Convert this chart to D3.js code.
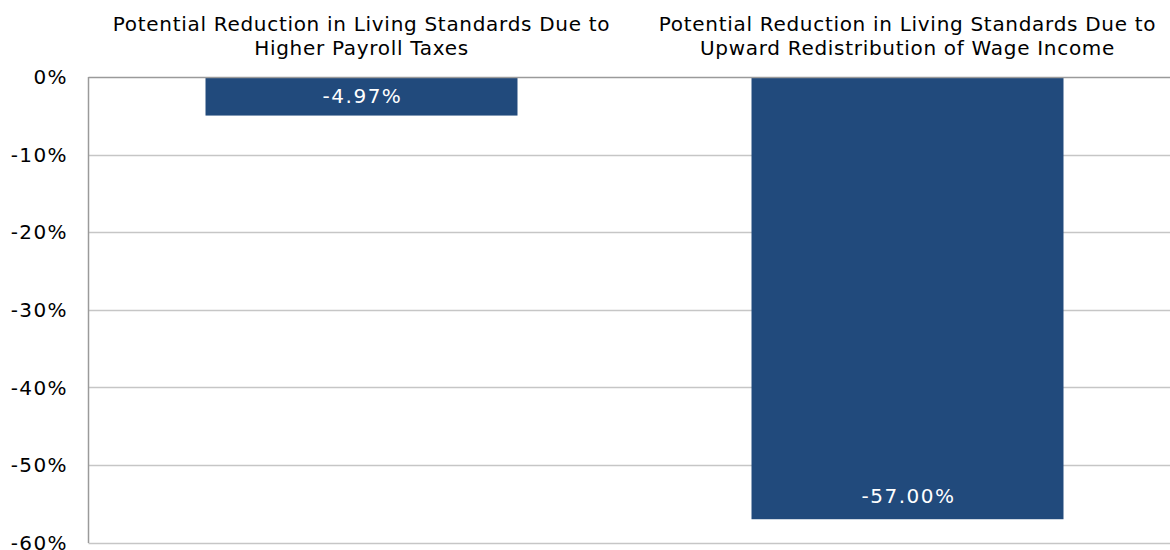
<!DOCTYPE html>
<html>
<head>
<meta charset="utf-8">
<script src="https://cdn.jsdelivr.net/npm/d3@7"></script>
<style>
  body { margin: 0; background: #fff; }
  svg { display: block; font-family: "DejaVu Sans", Verdana, sans-serif; }
</style>
</head>
<body>
<div id="chart"></div>
<script>
// data
var categories = [
  ["Potential Reduction in Living Standards Due to", "Higher Payroll Taxes"],
  ["Potential Reduction in Living Standards Due to", "Upward Redistribution of Wage Income"]
];
var values = [-4.97, -57.0];
var yTicks = [0, -10, -20, -30, -40, -50, -60];

var width = 1170, height = 550;
var svg = d3.select("#chart").append("svg")
  .attr("width", width)
  .attr("height", height);

var y = d3.scaleLinear().domain([0, -60]).range([77, 542.5]);
var x = d3.scaleBand()
  .domain(d3.range(categories.length))
  .range([88.5, 1180.5])
  .paddingInner(0.4286)
  .paddingOuter(0.2143);

// gridlines
svg.append("g")
  .selectAll("line")
  .data(yTicks.slice(1))
  .enter().append("line")
  .attr("x1", 88.5).attr("x2", width)
  .attr("y1", function (d) { return Math.round(y(d)) + 0.5; })
  .attr("y2", function (d) { return Math.round(y(d)) + 0.5; })
  .attr("stroke", "#c6c6c6")
  .attr("stroke-width", 1.5);

// y labels
svg.append("g")
  .selectAll("text")
  .data(yTicks)
  .enter().append("text")
  .attr("x", 68)
  .attr("y", function (d) { return y(d); })
  .attr("dy", "0.36em")
  .attr("text-anchor", "end")
  .attr("font-size", 20)
  .attr("letter-spacing", 1.4)
  .attr("fill", "#000")
  .text(function (d) { return d + "%"; });

// bars
svg.append("g")
  .selectAll("rect")
  .data(values)
  .enter().append("rect")
  .attr("x", function (d, i) { return x(i); })
  .attr("y", y(0))
  .attr("width", x.bandwidth())
  .attr("height", function (d) { return y(d) - y(0); })
  .attr("fill", "#214a7c");

// value labels inside end of bar
svg.append("g")
  .selectAll("text")
  .data(values)
  .enter().append("text")
  .attr("x", function (d, i) { return x(i) + x.bandwidth() / 2 + 1; })
  .attr("y", function (d) { return Math.max(y(d) - 23, (y(0) + y(d)) / 2); })
  .attr("dy", "0.36em")
  .attr("text-anchor", "middle")
  .attr("font-size", 20)
  .attr("letter-spacing", 1.5)
  .attr("fill", "#fff")
  .text(function (d) { return d.toFixed(2) + "%"; });

// category headers
var heads = svg.append("g")
  .selectAll("text")
  .data(categories)
  .enter().append("text")
  .attr("text-anchor", "middle")
  .attr("font-size", 20)
  .attr("letter-spacing", 0.7)
  .attr("fill", "#000");
heads.selectAll("tspan")
  .data(function (d, i) { return d.map(function (t) { return { t: t, i: i }; }); })
  .enter().append("tspan")
  .attr("x", function (d) { return x(d.i) + x.bandwidth() / 2; })
  .attr("y", function (d, j) { return 31 + j * 24; })
  .text(function (d) { return d.t; });

// axis lines
svg.append("line")
  .attr("x1", 88.5).attr("x2", width)
  .attr("y1", 77.5).attr("y2", 77.5)
  .attr("stroke", "#9a9a9a").attr("stroke-width", 1.5);
svg.append("line")
  .attr("x1", 88.5).attr("x2", 88.5)
  .attr("y1", 77).attr("y2", 543)
  .attr("stroke", "#9a9a9a").attr("stroke-width", 1.5);
</script>
</body>
</html>
